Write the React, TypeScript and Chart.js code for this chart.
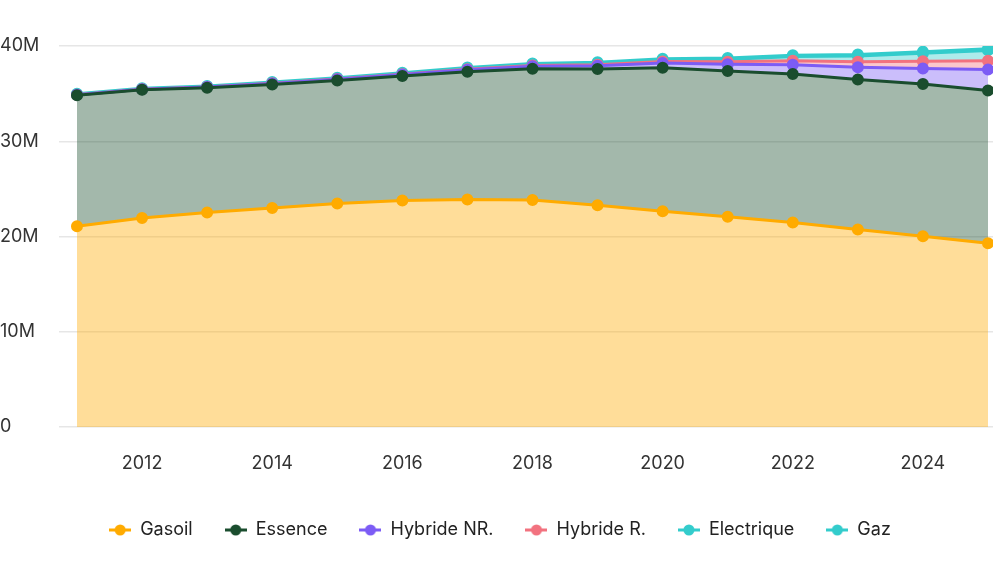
import React, { useEffect, useRef } from "react";
import { Chart, registerables } from "chart.js";

Chart.register(...registerables);

const years = [2011, 2012, 2013, 2014, 2015, 2016, 2017, 2018, 2019, 2020, 2021, 2022, 2023, 2024, 2025];
const xTickYears = [2012, 2014, 2016, 2018, 2020, 2022, 2024];
const yTicks = [0, 10, 20, 30, 40];

// values in millions
const gasoil = [21.08, 21.93, 22.53, 22.98, 23.47, 23.79, 23.89, 23.82, 23.29, 22.66, 22.07, 21.47, 20.74, 20.03, 19.3];
const essence = [13.76, 13.47, 13.08, 12.99, 12.92, 13.05, 13.41, 13.79, 14.29, 15.06, 15.3, 15.58, 15.75, 15.97, 16.04];
const hybrideNR = [0.05, 0.06, 0.08, 0.1, 0.12, 0.16, 0.2, 0.26, 0.34, 0.5, 0.72, 0.98, 1.28, 1.65, 2.2];
const hybrideR = [0, 0, 0, 0.01, 0.02, 0.03, 0.05, 0.08, 0.12, 0.15, 0.25, 0.42, 0.58, 0.75, 0.9];
const electrique = [0.01, 0.01, 0.02, 0.03, 0.04, 0.05, 0.07, 0.1, 0.13, 0.15, 0.25, 0.45, 0.6, 0.85, 1.1];
const gaz = [0.1, 0.1, 0.1, 0.1, 0.1, 0.1, 0.12, 0.12, 0.13, 0.13, 0.14, 0.14, 0.15, 0.15, 0.16];

const seriesNames = ["Gasoil", "Essence", "Hybride NR.", "Hybride R.", "Electrique", "Gaz"];
const seriesValues = [gasoil, essence, hybrideNR, hybrideR, electrique, gaz];
const lineColors = ["#FFAB00", "#1A4D2E", "#7C5CF5", "#F2727F", "#33CCCC", "#33CCCC"];
const fillColors = [
  "rgba(255,171,0,0.4)",
  "rgba(26,77,46,0.4)",
  "rgba(124,92,245,0.4)",
  "rgba(242,114,127,0.4)",
  "rgba(51,204,204,0.4)",
  "rgba(51,204,204,0.4)",
];

const FONT = "Inter, 'Noto Sans', sans-serif";

function makeMarker(color: string): HTMLCanvasElement {
  const c = document.createElement("canvas");
  c.width = 22;
  c.height = 12;
  const ctx = c.getContext("2d")!;
  ctx.strokeStyle = color;
  ctx.lineWidth = 3;
  ctx.beginPath();
  ctx.moveTo(0, 6);
  ctx.lineTo(22, 6);
  ctx.stroke();
  ctx.fillStyle = color;
  ctx.beginPath();
  ctx.arc(11, 6, 5.5, 0, Math.PI * 2);
  ctx.fill();
  return c;
}

export default function App() {
  const ref = useRef<HTMLCanvasElement | null>(null);

  useEffect(() => {
    document.body.style.margin = "0";
    if (!ref.current) return;
    const markers = lineColors.map(makeMarker);
    const chart = new Chart(ref.current, {
      type: "line",
      data: {
        datasets: seriesNames.map((name, i) => ({
          label: name,
          data: years.map((y, j) => ({ x: y, y: seriesValues[i][j] })),
          borderColor: lineColors[i],
          backgroundColor: fillColors[i],
          pointBackgroundColor: lineColors[i],
          pointBorderColor: lineColors[i],
          pointRadius: 5,
          pointBorderWidth: 2,
          borderWidth: 3,
          tension: 0,
          fill: i === 0 ? "origin" : "-1",
        })),
      },
      options: {
        animation: false,
        responsive: true,
        maintainAspectRatio: false,
        layout: { padding: { top: 46, right: 0, left: 0, bottom: 13 } },
        scales: {
          x: {
            type: "linear",
            min: 2010.862,
            max: 2025.077,
            grid: { display: false },
            border: { display: false },
            afterBuildTicks: (scale: any) => {
              scale.ticks = xTickYears.map((v) => ({ value: v }));
            },
            afterFit: (scale: any) => {
              scale.height = 62;
            },
            ticks: {
              padding: 18,
              color: "#333",
              font: { family: FONT, size: 18 },
              callback: (v: any) => String(v),
            },
          },
          y: {
            stacked: true,
            min: 0,
            max: 40,
            afterBuildTicks: (scale: any) => {
              scale.ticks = yTicks.map((v) => ({ value: v }));
            },
            afterFit: (scale: any) => {
              scale.width = 68;
            },
            grid: { color: "#e6e6e6", tickLength: 9, lineWidth: 1.5 },
            border: { display: false },
            ticks: {
              crossAlign: "far",
              color: "#333",
              font: { family: FONT, size: 18 },
              callback: (v: any) => (v === 0 ? "0" : v + "M"),
            },
          },
        },
        plugins: {
          tooltip: { enabled: false },
          legend: {
            position: "bottom",
            labels: {
              usePointStyle: true,
              pointStyleWidth: 22,
              padding: 32,
              color: "#222",
              font: { family: FONT, size: 18 },
              generateLabels: (ch: any) => {
                const items = Chart.defaults.plugins.legend.labels.generateLabels(ch);
                return items.map((it: any, i: number) => ({ ...it, pointStyle: markers[i] }));
              },
            },
          },
        },
      },
    } as any);
    return () => chart.destroy();
  }, []);

  return (
    <div style={{ position: "relative", width: 1000, height: 562 }}>
      <canvas ref={ref} />
    </div>
  );
}
